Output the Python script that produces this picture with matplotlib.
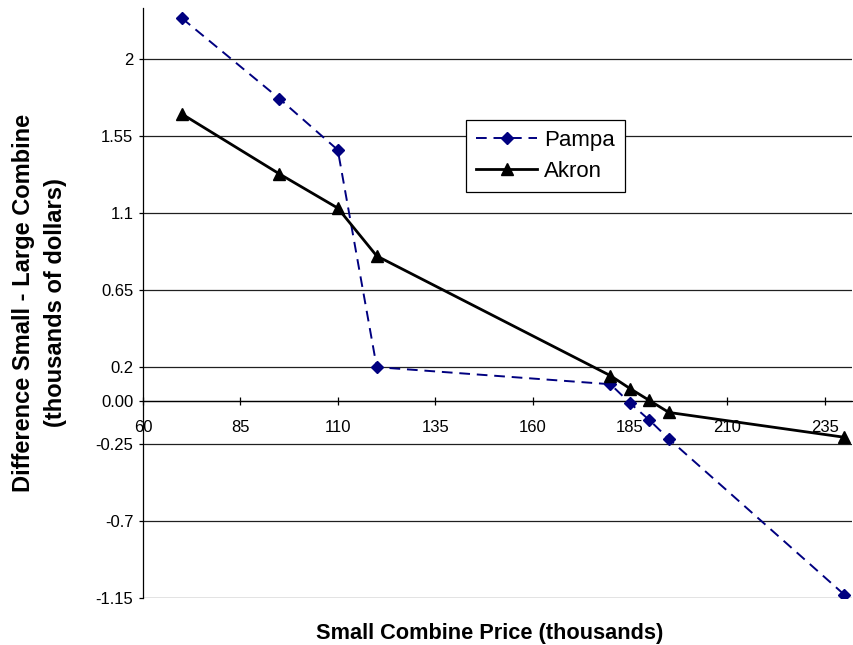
import matplotlib.pyplot as plt
import numpy as np

plt.rcParams['font.family'] = ['Liberation Sans', 'DejaVu Sans']

# data
price = [70, 95, 110, 120, 180, 185, 190, 195, 240]
pampa = [2.24, 1.77, 1.47, 0.20, 0.10, -0.01, -0.11, -0.22, -1.13]
akron = [1.68, 1.33, 1.13, 0.85, 0.15, 0.075, 0.005, -0.065, -0.21]

y_ticks = [2, 1.55, 1.1, 0.65, 0.2, 0.0, -0.25, -0.7, -1.15]
y_labels = ['2', '1.55', '1.1', '0.65', '0.2', '0.00', '-0.25', '-0.7', '-1.15']
x_ticks = [60, 85, 110, 135, 160, 185, 210, 235]

fig = plt.figure(figsize=(8.54, 6.45), dpi=100)
ax = fig.add_axes([143/854, 1-598/645, 709/854, 590/645])

ax.plot(price, pampa, color='#000080', linestyle=(0, (5.5, 3.5)), linewidth=1.4,
        marker='D', markersize=6, label='Pampa', zorder=3)
ax.plot(price, akron, color='black', linewidth=2, marker='^', markersize=9,
        label='Akron', zorder=4)

ax.set_xlim(60, 242)
ax.set_ylim(-1.15, 2.3)

# horizontal grid
for yv in y_ticks:
    ax.axhline(yv, color='#202020', linewidth=0.9, zorder=1)

ax.set_yticks(y_ticks)
ax.set_yticklabels(y_labels, fontsize=12)
ax.tick_params(axis='y', length=3, width=0.9, pad=4)

# x axis sits at y = 0
for s in ['top', 'right']:
    ax.spines[s].set_visible(False)
ax.spines['bottom'].set_position(('data', 0))
ax.spines['left'].set_linewidth(0.9)
ax.spines['bottom'].set_linewidth(0.9)
ax.set_xticks(x_ticks)
ax.set_xticklabels([str(v) for v in x_ticks], fontsize=12)
ax.tick_params(axis='x', direction='inout', length=6, width=0.9, pad=10.5)

fig.text(24/854, 1-303/645, 'Difference Small - Large Combine', fontsize=17,
         fontweight='bold', rotation=90, ha='center', va='center')
fig.text(56/854, 1-303/645, '(thousands of dollars)', fontsize=17,
         fontweight='bold', rotation=90, ha='center', va='center')
fig.text(490/854, 1-633/645, 'Small Combine Price (thousands)', fontsize=15.7,
         fontweight='bold', ha='center', va='center')

leg = ax.legend(loc='upper left', bbox_to_anchor=(0.4556, 0.81), fontsize=16,
                frameon=True, fancybox=False, edgecolor='black', framealpha=1,
                handlelength=2.75, borderpad=0.45, labelspacing=0.45,
                handletextpad=0.3, borderaxespad=0)
leg.get_frame().set_linewidth(0.9)

plt.savefig('out.png', dpi=100)
